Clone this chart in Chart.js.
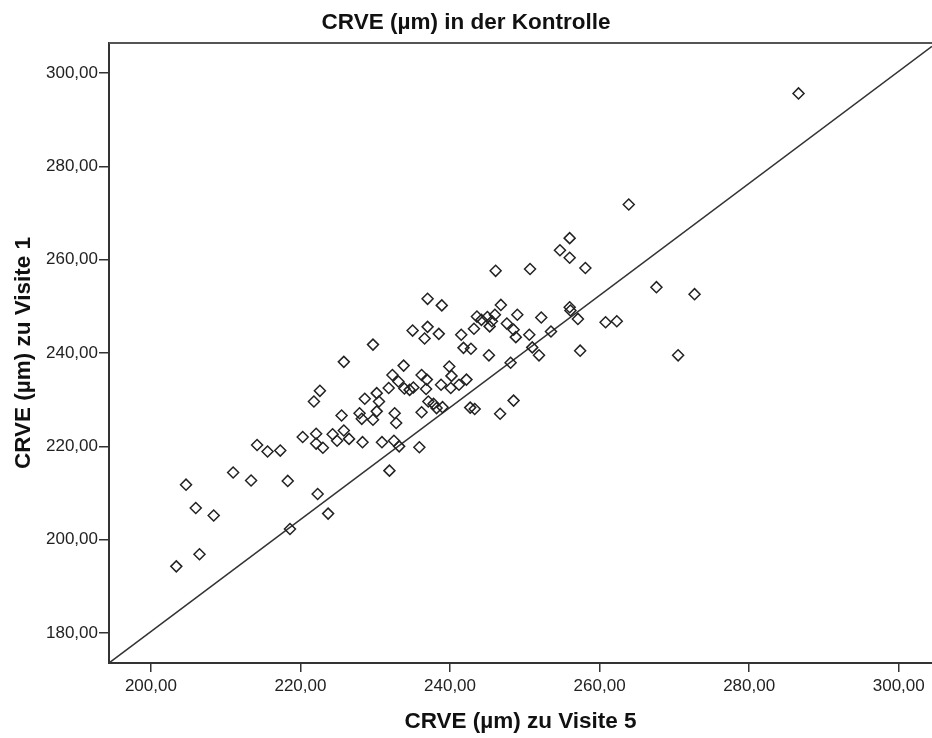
<!DOCTYPE html>
<html lang="de">
<head>
<meta charset="utf-8">
<title>CRVE (µm) in der Kontrolle</title>
<script src="https://cdn.jsdelivr.net/npm/chart.js@4.4.1/dist/chart.umd.min.js"></script>
<style>
    html, body { margin: 0; padding: 0; background: #ffffff; }
    #wrap { width: 932px; height: 738px; position: relative; }
</style>
</head>
<body>
<div id="wrap"><canvas id="scatterChart"></canvas></div>
<script>
// Chart data: CRVE (µm) at Visite 5 (x) vs Visite 1 (y)
const visite5 = [
    222.1, 220.3, 224.3, 225.8, 226.5, 224.9, 222.1, 223.0, 228.3, 230.9,
    232.5, 233.2, 214.2, 215.6, 217.3, 211.0, 213.4, 218.3, 204.7, 206.0,
    208.4, 222.3, 223.7, 218.6, 206.5, 203.4, 231.9,
    229.7, 225.8, 232.3, 233.1, 222.6, 221.8, 228.6, 230.2, 230.5, 231.8,
    225.5, 227.9, 228.2, 229.7, 230.2, 232.6, 232.8,
    263.9, 256.0, 254.7, 256.0, 258.1, 246.1, 250.7, 267.6, 272.7, 237.0,
    238.9, 246.8, 256.0, 256.1, 249.0, 252.2, 257.1, 260.8, 262.3, 243.6,
    244.2, 245.0, 245.6, 246.0, 245.3, 243.2, 235.0, 237.0, 236.6, 238.5,
    241.5, 247.6, 248.5, 248.8, 250.6, 253.5, 241.8, 242.8, 245.2, 251.0,
    251.9, 257.4, 270.5, 248.1, 233.8, 239.9, 236.2, 240.2, 236.9, 242.2,
    238.8, 240.1, 241.2, 236.8, 233.9, 234.6, 235.1, 237.1, 237.8, 238.2,
    239.0, 236.2, 242.7, 243.3, 248.5, 246.7, 235.9, 286.6
];
const visite1 = [
    222.7, 222.0, 222.6, 223.4, 221.6, 221.2, 220.6, 219.7, 220.9, 220.9,
    221.2, 220.0, 220.3, 218.9, 219.1, 214.4, 212.7, 212.6, 211.8, 206.8,
    205.2, 209.8, 205.6, 202.3, 196.9, 194.3, 214.8,
    241.8, 238.1, 235.3, 233.9, 231.9, 229.6, 230.2, 231.4, 229.6, 232.5,
    226.6, 227.1, 225.9, 225.7, 227.5, 227.1, 225.0,
    271.8, 264.6, 262.0, 260.4, 258.2, 257.6, 258.0, 254.1, 252.6, 251.6,
    250.2, 250.3, 249.8, 249.1, 248.2, 247.6, 247.3, 246.6, 246.8, 247.8,
    247.1, 247.7, 246.8, 248.2, 245.7, 245.2, 244.8, 245.6, 243.1, 244.1,
    243.9, 246.3, 245.0, 243.4, 243.9, 244.6, 241.1, 240.9, 239.5, 241.2,
    239.5, 240.5, 239.5, 237.9, 237.3, 237.1, 235.3, 235.1, 234.3, 234.3,
    233.2, 232.5, 233.2, 232.3, 232.4, 232.1, 232.6, 229.6, 229.1, 228.2,
    228.4, 227.3, 228.3, 228.0, 229.8, 227.0, 219.8, 295.6
];

// Reference line end points
const lineX = [194.4, 304.45];
const lineY = [173.6, 305.7];

// Axis ranges and tick step
const xRange = [194.4, 304.45];
const yRange = [173.6, 306.4];
const tickStep = 20;

const fontFamily = '"Liberation Sans", Arial, Helvetica, sans-serif';
const inkColor = '#333333';

// Format ticks the German SPSS way: 200,00
function formatTick(value) {
    return value.toFixed(2).replace('.', ',');
}

// Draw the top frame line of the plot box
const topFramePlugin = {
    id: 'topFrame',
    afterDraw(chart) {
        const { ctx, chartArea } = chart;
        ctx.save();
        ctx.strokeStyle = '#555555';
        ctx.lineWidth = 2;
        ctx.beginPath();
        ctx.moveTo(chartArea.left, chartArea.top);
        ctx.lineTo(chartArea.right, chartArea.top);
        ctx.stroke();
        ctx.restore();
    }
};

function createScatterChart(canvasId) {
    const ctx = document.getElementById(canvasId);
    if (!ctx) return null;

    const points = visite5.map((x, i) => ({ x: x, y: visite1[i] }));
    const linePoints = lineX.map((x, i) => ({ x: x, y: lineY[i] }));

    return new Chart(ctx, {
        type: 'scatter',
        data: {
            datasets: [{
                label: 'CRVE',
                data: points,
                pointStyle: 'rectRot',
                pointRadius: 5.5,
                borderColor: '#222222',
                borderWidth: 1.5,
                backgroundColor: 'rgba(0,0,0,0)'
            }, {
                label: 'Linie',
                data: linePoints,
                showLine: true,
                borderColor: inkColor,
                borderWidth: 1.5,
                pointRadius: 0
            }]
        },
        options: {
            responsive: true,
            maintainAspectRatio: false,
            animation: false,
            layout: {
                padding: 0,
                autoPadding: false
            },
            plugins: {
                legend: {
                    display: false
                },
                tooltip: {
                    enabled: false
                },
                title: {
                    display: true,
                    text: 'CRVE (µm) in der Kontrolle',
                    color: '#111111',
                    font: {
                        family: fontFamily,
                        size: 22.5,
                        weight: 'bold'
                    },
                    padding: { top: 9, bottom: 7 }
                }
            },
            scales: {
                x: {
                    type: 'linear',
                    position: 'bottom',
                    min: xRange[0],
                    max: xRange[1],
                    afterFit: (scale) => {
                        scale.height = 75;
                        scale.paddingLeft = 0;
                        scale.paddingRight = 0;
                    },
                    border: { display: true, color: inkColor, width: 2 },
                    grid: {
                        drawOnChartArea: false,
                        drawTicks: true,
                        tickLength: 9,
                        color: inkColor,
                        lineWidth: 1.5
                    },
                    ticks: {
                        stepSize: tickStep,
                        includeBounds: false,
                        maxRotation: 0,
                        padding: 4,
                        color: '#222222',
                        font: { family: fontFamily, size: 17 },
                        callback: (value) => formatTick(value)
                    },
                    title: {
                        display: true,
                        text: 'CRVE (µm) zu Visite 5',
                        color: '#111111',
                        font: { family: fontFamily, size: 22.5, weight: 'bold' },
                        padding: { top: 0, bottom: 3 }
                    }
                },
                y: {
                    type: 'linear',
                    min: yRange[0],
                    max: yRange[1],
                    afterFit: (scale) => {
                        scale.width = 109;
                        scale.paddingTop = 0;
                        scale.paddingBottom = 0;
                    },
                    border: { display: true, color: inkColor, width: 2 },
                    grid: {
                        drawOnChartArea: false,
                        drawTicks: true,
                        tickLength: 10,
                        color: inkColor,
                        lineWidth: 1.5
                    },
                    ticks: {
                        stepSize: tickStep,
                        includeBounds: false,
                        padding: 1,
                        color: '#222222',
                        font: { family: fontFamily, size: 17 },
                        callback: (value) => formatTick(value)
                    },
                    title: {
                        display: true,
                        text: 'CRVE (µm) zu Visite 1',
                        color: '#111111',
                        font: { family: fontFamily, size: 22.5, weight: 'bold' },
                        padding: { top: 10, bottom: 0 }
                    }
                }
            }
        },
        plugins: [topFramePlugin]
    });
}

createScatterChart('scatterChart');
</script>
</body>
</html>
